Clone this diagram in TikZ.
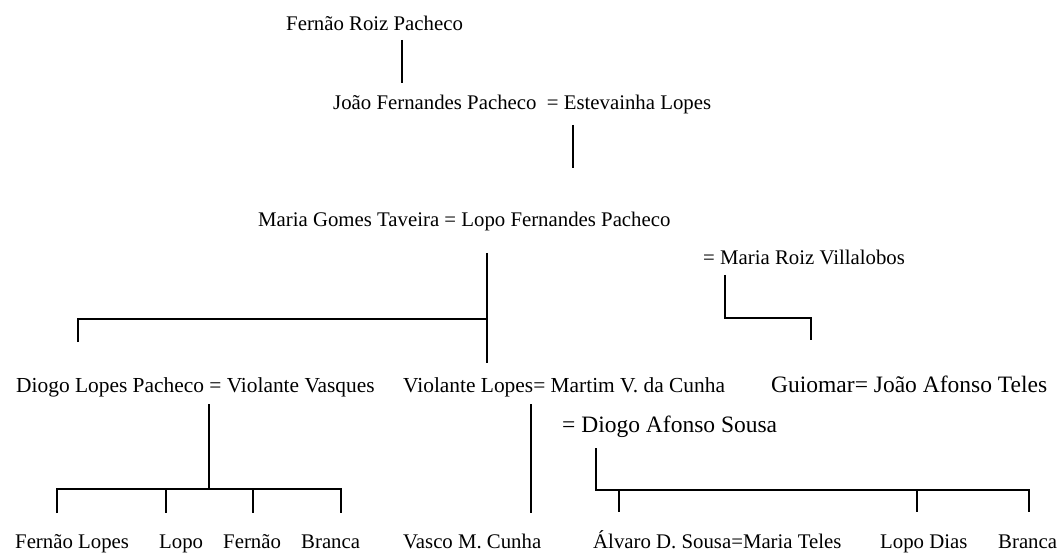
\documentclass[tikz,border=0pt]{standalone}
\usepackage{fontspec}
\setmainfont{Liberation Serif}
\begin{document}
\begin{tikzpicture}[x=1pt,y=-1pt,
  lbl/.style={anchor=base west, inner sep=0pt, font=\fontsize{20.8}{24}\selectfont},
  mid/.style={anchor=base west, inner sep=0pt, font=\fontsize{21.4}{25}\selectfont},
  big/.style={anchor=base west, inner sep=0pt, font=\fontsize{23.5}{28}\selectfont},
  link/.style={line width=2.5pt, line cap=butt, line join=miter}]
\useasboundingbox (0,0) rectangle (1057,553);
% persons
\node[lbl] (frp) at (286,31) {Fernão Roiz Pacheco};
\node[lbl] (jfp) at (333,110) {João Fernandes Pacheco\ \ = Estevainha Lopes};
\node[lbl] (mgt) at (258,227) {Maria Gomes Taveira = Lopo Fernandes Pacheco};
\node[lbl] (mrv) at (703,265) {= Maria Roiz Villalobos};
\node[mid] (dlp) at (16,392) {Diogo Lopes Pacheco = Violante Vasques};
\node[mid] (vl)  at (403,392) {Violante Lopes= Martim V. da Cunha};
\node[big] (gui) at (771,392) {Guiomar= João Afonso Teles};
\node[big] (das) at (562,432) {= Diogo Afonso Sousa};
\node[lbl] (fl)  at (15,548) {Fernão Lopes};
\node[lbl] (lo)  at (159,548) {Lopo};
\node[lbl] (fe)  at (223,548) {Fernão};
\node[lbl] (br1) at (301,548) {Branca};
\node[lbl] (vmc) at (403,548) {Vasco M. Cunha};
\node[lbl] (ads) at (593,548) {Álvaro D. Sousa=Maria Teles};
\node[lbl] (ld)  at (880,548) {Lopo Dias};
\node[lbl] (br2) at (998,548) {Branca};
% line anchors
\coordinate (a1) at (402,40);  \coordinate (a2) at (402,83);
\coordinate (b1) at (573,125); \coordinate (b2) at (573,168);
\coordinate (c1) at (487,253); \coordinate (cj) at (487,319); \coordinate (c2) at (487,363);
\coordinate (cl) at (78,319);  \coordinate (cl2) at (78,342);
\coordinate (d1) at (725,275); \coordinate (dj) at (725,318);
\coordinate (dr) at (811,318); \coordinate (dr2) at (811,340);
\coordinate (e1) at (209,404); \coordinate (ej) at (209,489);
\coordinate (el) at (57,489);  \coordinate (er) at (341,489);
\coordinate (t1) at (57,513);  \coordinate (t2a) at (166,489); \coordinate (t2) at (166,513);
\coordinate (t3a) at (253,489); \coordinate (t3) at (253,513); \coordinate (t4) at (341,513);
\coordinate (f1) at (531,404); \coordinate (f2) at (531,513);
\coordinate (g1) at (596,448); \coordinate (gj) at (596,490);
\coordinate (gr) at (1029,490); \coordinate (gr2) at (1029,512);
\coordinate (u1a) at (619,490); \coordinate (u1) at (619,512);
\coordinate (u2a) at (917,490); \coordinate (u2) at (917,512);
% connectors
\draw[link] (a1) -- (a2);
\draw[link] (b1) -- (b2);
\draw[link] (c1) -- (c2);
\draw[link] (cl2) -- (cl) -- (cj);
\draw[link] (d1) -- (dj) -- (dr) -- (dr2);
\draw[link] (e1) -- (ej);
\draw[link] (t1) -- (el) -- (er) -- (t4);
\draw[link] (t2a) -- (t2);
\draw[link] (t3a) -- (t3);
\draw[link] (f1) -- (f2);
\draw[link] (g1) -- (gj) -- (gr) -- (gr2);
\draw[link] (u1a) -- (u1);
\draw[link] (u2a) -- (u2);
\end{tikzpicture}
\end{document}
